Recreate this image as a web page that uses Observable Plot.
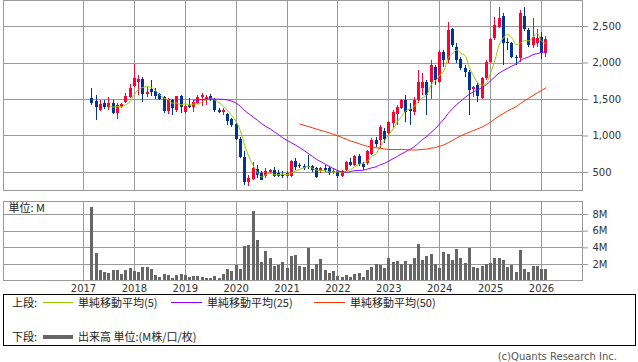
<!DOCTYPE html>
<html>
<head>
<meta charset="utf-8">
<script src="https://cdn.jsdelivr.net/npm/d3@7"></script>
<script src="https://cdn.jsdelivr.net/npm/@observablehq/plot@0.6"></script>
<style>
  body { margin:0; background:#fff; width:638px; height:362px; overflow:hidden; position:relative; font-family:"DejaVu Sans", sans-serif; }
  #top, #vol { position:absolute; left:0; }
  #top { top:0; }
  #vol { top:201px; }
  #legend { position:absolute; left:3px; top:294px; width:633px; height:52px; border:1px solid #000; box-sizing:border-box; }
  .lt { position:absolute; font-family:"Noto Sans CJK JP", sans-serif; font-size:11px; line-height:14px; color:#222; white-space:nowrap; }
  .ll { position:absolute; }
  #copy { position:absolute; right:21px; top:351px; font-size:10px; line-height:12px; color:#555; font-family:"DejaVu Sans", sans-serif; }
</style>
</head>
<body>
<div id="top"></div>
<div id="vol"></div>
<div id="legend"></div>
<div class="lt" style="left:12px;top:295px">上段:</div>
<div class="ll" style="left:43px;top:302px;width:30px;height:1px;background:#99cc00"></div>
<div class="lt" style="left:78px;top:295px">単純移動平均(5)</div>
<div class="ll" style="left:171px;top:302px;width:31px;height:1px;background:#9900ff"></div>
<div class="lt" style="left:207px;top:295px">単純移動平均(25)</div>
<div class="ll" style="left:314px;top:302px;width:31px;height:1px;background:#ff3300"></div>
<div class="lt" style="left:350px;top:295px">単純移動平均(50)</div>
<div class="lt" style="left:12px;top:329px">下段:</div>
<div class="ll" style="left:43px;top:335px;width:30px;height:4px;background:#666"></div>
<div class="lt" style="left:78px;top:329px">出来高 単位:(M株/口/枚)</div>
<div id="copy">(c)Quants Research Inc.</div>
<script>
// Monthly data, March 2017 .. February 2026
const startYear = 2017, startMonth = 3;
const open  = [1511,1470,1350,1451,1395,1451,1310,1392,1464,1533,1679,1738,1774,1565,1634,1615,1570,1524,1341,1488,1351,1542,1328,1415,1396,1451,1524,1497,1542,1497,1351,1328,1296,1224,1160,951,700,358,404,541,486,449,505,522,486,463,449,440,654,600,577,586,577,555,508,555,555,495,508,449,522,631,600,713,613,623,750,932,941,1055,1041,1169,1290,1380,1488,1360,1328,1488,1647,1738,1738,1943,1738,2147,2034,2453,2216,2044,1921,1874,1634,1693,1511,1784,2011,2330,2489,2640,2284,2270,2079,2057,2635,2444,2239,2262,2344,2134];
const high  = [1647,1556,1480,1488,1530,1488,1447,1443,1579,1702,1975,1829,1798,1661,1761,1656,1579,1542,1511,1497,1542,1556,1419,1519,1488,1551,1588,1556,1570,1511,1374,1383,1314,1237,1191,986,781,463,631,600,508,555,545,568,527,518,508,659,695,627,613,736,600,568,568,590,577,560,531,527,645,686,736,740,640,804,968,977,1146,1109,1205,1351,1420,1500,1556,1443,1533,1897,1860,1761,2034,1966,2170,2170,2557,2467,2262,2079,1966,1897,1679,1716,1806,2034,2330,2626,2762,2672,2330,2284,2102,2720,2762,2467,2604,2453,2421,2362];
const low   = [1419,1214,1330,1361,1355,1292,1232,1374,1451,1519,1661,1560,1464,1533,1542,1497,1488,1306,1296,1283,1328,1306,1306,1383,1328,1437,1406,1419,1478,1328,1306,1283,1146,1119,941,691,326,303,390,418,390,418,470,427,427,418,418,427,527,555,527,545,505,418,486,500,463,470,418,427,508,577,586,577,531,600,727,841,828,891,1000,1100,1150,1360,1180,1150,1283,1443,1556,1283,1500,1693,1716,1943,1989,2216,1989,1897,1806,1283,1533,1464,1497,1761,1989,2307,2467,1966,2170,2057,1966,2011,2434,2216,2194,2216,2044,2071];
const close = [1443,1396,1430,1396,1445,1314,1419,1433,1542,1656,1784,1774,1570,1601,1601,1542,1497,1341,1497,1374,1542,1388,1406,1396,1460,1533,1556,1533,1497,1351,1328,1351,1205,1146,955,705,358,418,555,463,395,518,531,440,449,440,486,645,568,577,555,563,531,432,555,530,486,520,449,508,631,600,713,613,568,781,941,886,1123,951,1191,1328,1390,1488,1320,1330,1488,1738,1738,1556,1966,1761,2147,2034,2444,2239,2034,1921,1874,1624,1661,1542,1784,2011,2317,2512,2604,2270,2262,2079,2057,2680,2453,2239,2344,2330,2125,2317];
const volume = [8.9,3.36,1.28,1.0,0.92,1.25,1.25,0.84,1.28,1.52,1.16,1.08,1.64,1.64,1.4,0.68,0.44,0.8,0.68,0.36,0.68,0.76,0.68,0.48,0.56,0.56,0.44,0.32,0.32,0.56,0.36,0.8,1.4,1.16,1.88,1.4,4.16,4.28,8.4,4.88,2.28,3.56,2.76,1.8,1.88,2.24,1.56,2.96,3.08,1.8,1.68,3.96,1.4,1.96,2.6,1.28,0.96,1.16,0.6,0.48,0.68,0.44,0.76,0.88,0.48,1.25,1.68,1.96,1.88,1.56,2.76,2.28,2.36,1.96,2.36,2.0,2.76,4.4,2.52,3.0,3.2,2.0,1.56,3.4,3.2,2.5,3.8,2.76,2.12,3.96,1.68,1.56,1.8,1.96,2.12,2.76,2.76,2.5,1.68,1.88,1.04,3.68,1.4,1.0,1.8,1.8,1.4,1.4];
const yearLabels = ["2017","2018","2019","2020","2021","2022","2023","2024","2025","2026"];
const priceTicks = [500, 1000, 1500, 2000, 2500];
const volumeTicks = [2, 4, 6, 8];
const maPeriods = [5, 25, 50];
const maColors = ["#99cc00", "#9900ff", "#ff3300"];
const upColor = "#ff0033", downColor = "#003399";

// month index relative to January of the first year label
const data = close.map((c, i) => ({
  m: (startYear - +yearLabels[0]) * 12 + (startMonth - 1) + i,
  open: open[i], high: high[i], low: low[i], close: c, volume: volume[i]
}));
const ups = data.filter(d => d.close >= d.open);
const downs = data.filter(d => d.close < d.open);
const yearTicks = yearLabels.map((y, i) => i * 12);
const xDomain = [-18.865, 117.67];

const grid = "#999";
const topPlot = Plot.plot({
  width: 638, height: 191,
  marginTop: 0, marginBottom: 1, marginLeft: 3, marginRight: 56,
  x: {domain: xDomain, axis: null},
  y: {domain: [253.4, 2856.2], axis: null},
  style: {fontFamily: "DejaVu Sans", fontSize: "10px", background: "transparent", overflow: "visible"},
  marks: [
    Plot.ruleY(priceTicks, {stroke: grid, shapeRendering: "crispEdges"}),
    Plot.ruleX(yearTicks, {stroke: grid, shapeRendering: "crispEdges"}),
    Plot.ruleX(ups, {x: "m", y1: "low", y2: "high", stroke: upColor, shapeRendering: "crispEdges"}),
    Plot.ruleX(downs, {x: "m", y1: "low", y2: "high", stroke: downColor, shapeRendering: "crispEdges"}),
    Plot.ruleX(ups, {x: "m", y1: "open", y2: "close", stroke: upColor, strokeWidth: 3, shapeRendering: "crispEdges"}),
    Plot.ruleX(downs, {x: "m", y1: "open", y2: "close", stroke: downColor, strokeWidth: 3, shapeRendering: "crispEdges"}),
    ...maPeriods.map((k, j) => Plot.lineY(data, Plot.windowY({k, anchor: "end", strict: true, reduce: "mean"},
      {x: "m", y: "close", stroke: maColors[j], strokeWidth: 1, curve: "monotone-x"}))),
    Plot.frame({stroke: grid, shapeRendering: "crispEdges"}),
    Plot.axisY(priceTicks, {anchor: "right", label: null, tickSize: 5, tickPadding: 5, tickFormat: d3.format(","),
      stroke: grid, fill: "#333", fontSize: 10})
  ]
});
document.getElementById("top").appendChild(topPlot);

const volPlot = Plot.plot({
  width: 638, height: 100,
  marginTop: 0, marginBottom: 21, marginLeft: 3, marginRight: 56,
  x: {domain: xDomain, axis: null},
  y: {domain: [0.08, 9.56], axis: null},
  style: {fontFamily: "DejaVu Sans", fontSize: "10px", background: "transparent", overflow: "visible"},
  marks: [
    Plot.ruleY(volumeTicks, {stroke: grid, shapeRendering: "crispEdges"}),
    Plot.ruleX(yearTicks, {stroke: grid, shapeRendering: "crispEdges"}),
    Plot.ruleX(data, {x: "m", y1: 0, y2: "volume", stroke: "#666", strokeWidth: 3, clip: true, shapeRendering: "crispEdges"}),
    Plot.frame({stroke: grid, shapeRendering: "crispEdges"}),
    Plot.text(["単位: M"], {frameAnchor: "top-left", dx: 5, dy: 3, lineAnchor: "top", textAnchor: "start",
      fontFamily: "Noto Sans CJK JP", fontSize: 11, fill: "#222"}),
    Plot.axisY(volumeTicks, {anchor: "right", label: null, tickSize: 5, tickPadding: 5, tickFormat: d => d + "M",
      stroke: grid, fill: "#333", fontSize: 10}),
    Plot.axisX(yearTicks, {anchor: "bottom", label: null, tickSize: 0, tickPadding: 4, tickFormat: m => yearLabels[m / 12],
      fill: "#333", fontSize: 10})
  ]
});
document.getElementById("vol").appendChild(volPlot);
</script>
</body>
</html>
